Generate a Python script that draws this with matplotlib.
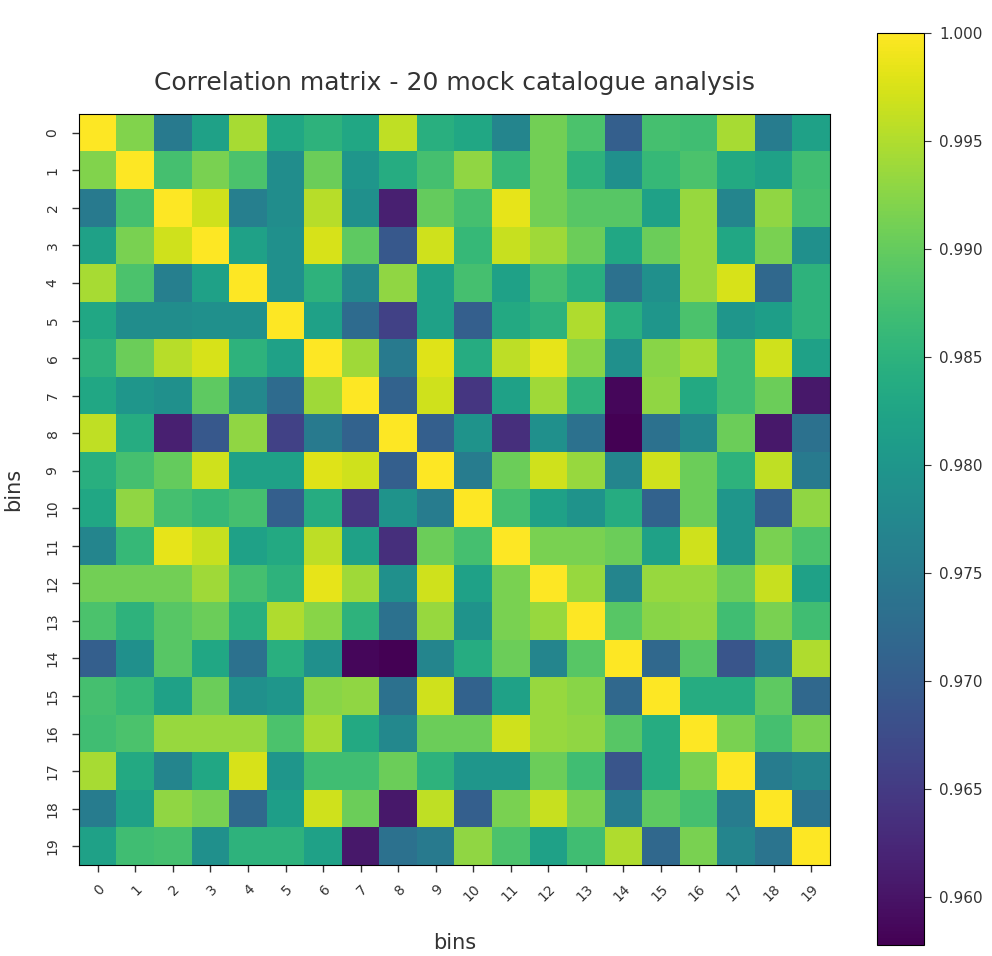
import numpy as np
import matplotlib
matplotlib.use("Agg")
from matplotlib import pyplot as plt

# correlation between the 20 bins, upper triangle row by row (diagonal = 1)
upper_rows = [
    [1.0, 0.992, 0.975, 0.982, 0.9945, 0.983, 0.985, 0.983, 0.996, 0.9845, 0.983, 0.977, 0.991, 0.988, 0.9705, 0.9875, 0.987, 0.9945, 0.9755, 0.982],
    [1.0, 0.9875, 0.9915, 0.988, 0.9785, 0.9905, 0.980, 0.984, 0.9875, 0.993, 0.986, 0.991, 0.985, 0.979, 0.986, 0.988, 0.9835, 0.982, 0.987],
    [1.0, 0.997, 0.976, 0.9785, 0.9955, 0.979, 0.9615, 0.990, 0.9875, 0.9985, 0.991, 0.989, 0.989, 0.982, 0.9935, 0.977, 0.993, 0.9875],
    [1.0, 0.982, 0.979, 0.9975, 0.9895, 0.9695, 0.997, 0.986, 0.9965, 0.994, 0.9905, 0.983, 0.9905, 0.9935, 0.983, 0.9915, 0.979],
    [1.0, 0.979, 0.985, 0.9775, 0.993, 0.982, 0.9875, 0.982, 0.9875, 0.9845, 0.9735, 0.979, 0.9935, 0.9975, 0.972, 0.985],
    [1.0, 0.982, 0.9725, 0.966, 0.982, 0.9705, 0.9835, 0.985, 0.995, 0.9845, 0.980, 0.988, 0.980, 0.9815, 0.985],
    [1.0, 0.994, 0.975, 0.998, 0.984, 0.9958, 0.9985, 0.9925, 0.979, 0.9925, 0.9945, 0.987, 0.997, 0.982],
    [1.0, 0.971, 0.997, 0.9645, 0.982, 0.994, 0.985, 0.9585, 0.993, 0.9835, 0.987, 0.9905, 0.9605],
    [1.0, 0.9705, 0.9795, 0.9635, 0.979, 0.9735, 0.9578, 0.9735, 0.9775, 0.9905, 0.9605, 0.9735],
    [1.0, 0.9755, 0.9905, 0.997, 0.9935, 0.977, 0.997, 0.9905, 0.985, 0.996, 0.975],
    [1.0, 0.9875, 0.982, 0.9795, 0.984, 0.971, 0.9905, 0.980, 0.9705, 0.993],
    [1.0, 0.9915, 0.9915, 0.9905, 0.982, 0.997, 0.980, 0.9915, 0.988],
    [1.0, 0.9935, 0.977, 0.9935, 0.9935, 0.9905, 0.9965, 0.982],
    [1.0, 0.989, 0.9925, 0.993, 0.987, 0.9915, 0.987],
    [1.0, 0.972, 0.989, 0.969, 0.9755, 0.995],
    [1.0, 0.984, 0.984, 0.9895, 0.972],
    [1.0, 0.9915, 0.9875, 0.9915],
    [1.0, 0.9755, 0.977],
    [1.0, 0.974],
    [1.0],
]
bins = list(range(20))

n = len(bins)
corr = np.zeros((n, n))
for i, row in enumerate(upper_rows):
    corr[i, i:] = row
    corr[i:, i] = row

fig = plt.figure(figsize=(9.92, 9.56), dpi=100)
ax = fig.add_axes([78 / 992, 1 - 865 / 956, 753 / 992, 751 / 956])
im = ax.imshow(corr, cmap="viridis", vmin=0.9578, vmax=1.0)

ax.set_xticks(bins)
ax.set_yticks(bins)
ax.tick_params(length=5, width=1, colors="#333333")
ax.tick_params(axis="x", pad=7)
ax.tick_params(axis="y", pad=9)
ax.set_xticklabels(bins, rotation=45, ha="right", rotation_mode="anchor", fontsize=10)
ax.set_yticklabels(bins, rotation=90, va="center", fontsize=10)
ax.set_xlabel("bins", fontsize=15, labelpad=21, color="#333333")
ax.set_ylabel("bins", fontsize=15, labelpad=16, color="#333333")
ax.set_title("Correlation matrix - 20 mock catalogue analysis", fontsize=18, pad=17, color="#333333")

cax = fig.add_axes([877 / 992, 1 - 945 / 956, 47 / 992, 912 / 956])
cb = fig.colorbar(im, cax=cax)
cb.set_ticks([0.960, 0.965, 0.970, 0.975, 0.980, 0.985, 0.990, 0.995, 1.000])
cb.ax.tick_params(labelsize=11, length=5, pad=6, colors="#333333")

fig.savefig("out.png", dpi=100)
